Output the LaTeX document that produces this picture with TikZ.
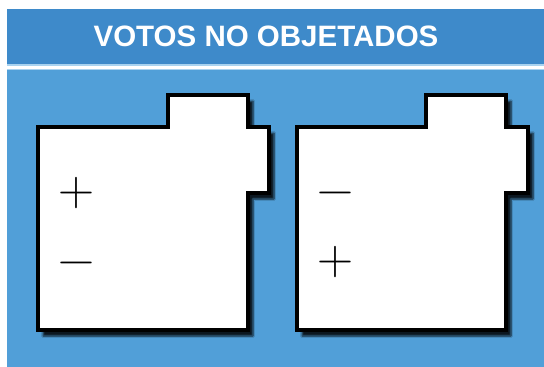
\documentclass[tikz,border=0pt]{standalone}
\usepackage{fontspec}
\setsansfont{Liberation Sans}
\usetikzlibrary{shadows.blur}
\definecolor{headblue}{HTML}{3E8ACA}
\definecolor{fieldblue}{HTML}{519FD8}
\definecolor{lineblue}{HTML}{A9D3F0}

\begin{document}
\begin{tikzpicture}[x=1pt, y=-1pt, thick,
  card/.style = {draw=black, line width=3.2pt, fill=white, line join=miter,
    blur shadow={shadow xshift=5pt, shadow yshift=-6pt, shadow blur steps=6, shadow opacity=85}},
  sign/.style = {inner sep=0pt, font=\rmfamily\fontsize{50}{50}\selectfont},
  title/.style = {text=white, font=\sffamily\bfseries\fontsize{29.5}{29.5}\selectfont}]
\useasboundingbox (0,0) rectangle (544,367);
\fill[white] (0,0) rectangle (544,367);
% background
\fill[fieldblue] (7,67) rectangle (544,367);
\fill[headblue] (7,9) rectangle (544,64);
\fill[lineblue] (7,64) rectangle (544,70);
\fill[white] (7,65.5) rectangle (544,68.5);
\node[title] (head) at (266,36) {VOTOS NO OBJETADOS};
% left card
\draw[card] (38,127) -- (168,127) -- (168,95) -- (248,95) -- (248,127) -- (269,127)
  -- (269,193) -- (248,193) -- (248,330) -- (38,330) -- cycle;
\node[sign] (plusL) at (76,193) {+};
\node[sign] (minusL) at (76,269) {−};
% right card
\draw[card] (297,127) -- (426,127) -- (426,95) -- (506,95) -- (506,127) -- (528,127)
  -- (528,193) -- (506,193) -- (506,330) -- (297,330) -- cycle;
\node[sign] (minusR) at (335,199) {−};
\node[sign] (plusR) at (335,262) {+};
\end{tikzpicture}
\end{document}
